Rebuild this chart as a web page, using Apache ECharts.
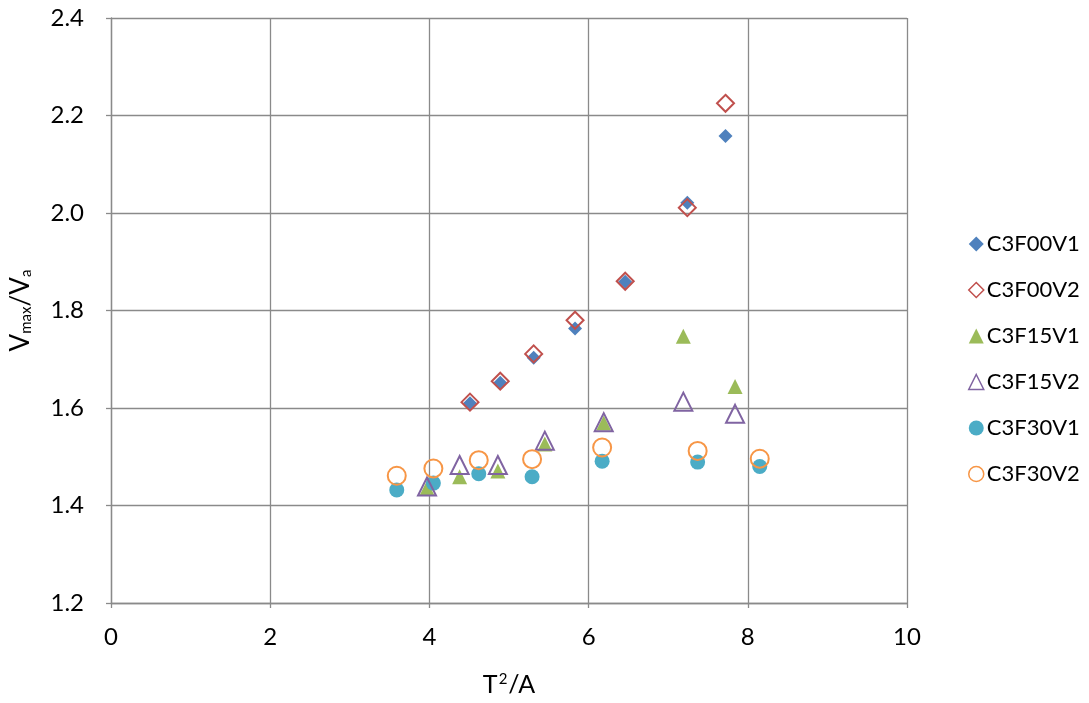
<!DOCTYPE html>
<html>
<head>
<meta charset="utf-8">
<script src="https://cdn.jsdelivr.net/npm/echarts@6/dist/echarts.min.js"></script>
<style>
  html, body { margin: 0; padding: 0; background: #ffffff; }
  #chart { width: 1089px; height: 703px; }
</style>
</head>
<body>
<div id="chart"></div>
<script>
// Measured points, [T²/A, Vmax/Va]
const seriesNames = ['C3F00V1', 'C3F00V2', 'C3F15V1', 'C3F15V2', 'C3F30V1', 'C3F30V2'];

const C3F00V1 = [[4.51, 1.610], [4.89, 1.652], [5.31, 1.703], [5.83, 1.763], [6.46, 1.859], [7.24, 2.021], [7.72, 2.158]];
const C3F00V2 = [[4.51, 1.612], [4.89, 1.655], [5.31, 1.711], [5.83, 1.780], [6.46, 1.860], [7.24, 2.011], [7.72, 2.225]];
const C3F15V1 = [[3.97, 1.436], [4.38, 1.459], [4.86, 1.471], [5.45, 1.526], [6.19, 1.569], [7.19, 1.747], [7.84, 1.644]];
const C3F15V2 = [[3.97, 1.439], [4.38, 1.483], [4.86, 1.483], [5.45, 1.533], [6.19, 1.571], [7.19, 1.613], [7.84, 1.588]];
const C3F30V1 = [[3.59, 1.432], [4.05, 1.446], [4.62, 1.465], [5.29, 1.459], [6.17, 1.491], [7.37, 1.489], [8.15, 1.480]];
const C3F30V2 = [[3.59, 1.461], [4.05, 1.476], [4.62, 1.493], [5.29, 1.495], [6.17, 1.519], [7.37, 1.512], [8.15, 1.496]];

const FONT = 'Lato, "Open Sans", sans-serif';
const GRID_COLOR = '#8a8a8a';
const CLEAR = 'rgba(255,255,255,0)';

// Marker styles per series: filled vs hollow
const styles = [
  { data: C3F00V1, symbol: 'diamond',  size: 14, fill: '#4F81BD', border: '#4F81BD', bw: 0 },
  { data: C3F00V2, symbol: 'diamond',  size: 17, fill: CLEAR,     border: '#C0504D', bw: 2, hollow: true },
  { data: C3F15V1, symbol: 'triangle', size: 15, fill: '#9BBB59', border: '#9BBB59', bw: 0 },
  { data: C3F15V2, symbol: 'triangle', size: 18, fill: CLEAR,     border: '#8064A2', bw: 2, hollow: true },
  { data: C3F30V1, symbol: 'circle',   size: 15, fill: '#4BACC6', border: '#4BACC6', bw: 0 },
  { data: C3F30V2, symbol: 'circle',   size: 18, fill: CLEAR,     border: '#F79646', bw: 2, hollow: true }
];

const series = styles.map((s, i) => ({
  name: seriesNames[i],
  type: 'scatter',
  data: s.data,
  symbol: s.symbol,
  symbolSize: s.size,
  z: s.hollow ? 3 : 2,
  itemStyle: { color: s.fill, borderColor: s.border, borderWidth: s.bw, opacity: 1 },
  emphasis: { disabled: true }
}));

const chart = echarts.init(document.getElementById('chart'), null, { renderer: 'canvas' });
chart.setOption({
  animation: false,
  backgroundColor: '#ffffff',
  grid: { left: 111, right: 182, top: 18, bottom: 100, containLabel: false, outerBoundsMode: 'none' },
  xAxis: {
    type: 'value', min: 0, max: 10, interval: 2,
    name: '{t|T}{p|2}{t|/A}', nameLocation: 'middle', nameGap: 68,
    nameTextStyle: {
      fontFamily: FONT, fontSize: 25, color: '#000',
      rich: {
        t: { fontFamily: FONT, fontSize: 25, color: '#000', lineHeight: 28 },
        p: { fontFamily: FONT, fontSize: 15, color: '#000', padding: [0, 1, 12, 1] }
      }
    },
    axisLine: { show: true, lineStyle: { color: GRID_COLOR, width: 1.3 } },
    axisTick: { show: true, length: 5, lineStyle: { color: GRID_COLOR, width: 1.3 } },
    axisLabel: { fontFamily: FONT, fontSize: 24, color: '#000', margin: 22 },
    splitLine: { show: true, lineStyle: { color: GRID_COLOR, width: 1.3 } }
  },
  yAxis: {
    type: 'value', min: 1.2, max: 2.4, interval: 0.2,
    name: '{v|V}{s|max}{v|/V}{s|a}', nameLocation: 'middle', nameGap: 77, nameRotate: 90,
    nameTextStyle: {
      fontFamily: FONT, fontSize: 26, color: '#000',
      rich: {
        v: { fontFamily: FONT, fontSize: 26, color: '#000', verticalAlign: 'bottom', lineHeight: 30 },
        s: { fontFamily: FONT, fontSize: 15, color: '#000', verticalAlign: 'bottom', lineHeight: 22 }
      }
    },
    axisLine: { show: true, lineStyle: { color: GRID_COLOR, width: 1.3 } },
    axisTick: { show: true, length: 5, lineStyle: { color: GRID_COLOR, width: 1.3 } },
    axisLabel: { fontFamily: FONT, fontSize: 24, color: '#000', margin: 27,
                 formatter: v => v.toFixed(1) },
    splitLine: { show: true, lineStyle: { color: GRID_COLOR, width: 1.3 } }
  },
  legend: {
    orient: 'vertical', left: 963, top: 228, itemGap: 24,
    itemWidth: 15, itemHeight: 15,
    textStyle: { fontFamily: FONT, fontSize: 22, color: '#000', padding: [0, 0, 0, -2] },
    data: seriesNames.map((n, i) => ({
      name: n,
      icon: styles[i].symbol,
      itemStyle: { color: styles[i].hollow ? '#ffffff' : styles[i].fill,
                   borderColor: styles[i].border, borderWidth: styles[i].hollow ? 1.5 : 0 }
    }))
  },
  series: series
});
</script>
</body>
</html>
